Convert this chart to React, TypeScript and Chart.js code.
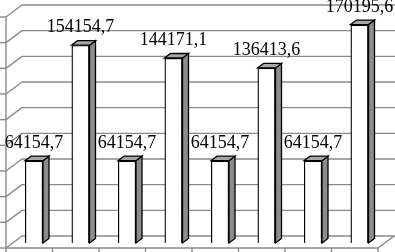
import React, { useEffect, useRef } from "react";
import { Chart, registerables } from "chart.js";

Chart.register(...registerables);

const categories = ["1", "2", "3", "4", "5", "6", "7", "8"];
const values = [64154.7, 154154.7, 64154.7, 144171.1, 64154.7, 136413.6, 64154.7, 170195.6];
const yTicks = [0, 20000, 40000, 60000, 80000, 100000, 120000, 140000, 160000, 180000];

const FX = -4.75, FY = 5; // front plane offset from bar plane
const BX = 11.25, BY = -7; // back plane offset from bar plane
const DX = 6, DY = 4.5; // bar depth

const fmt = (v: number) => String(v).replace(".", ",");

const wallPlugin = {
  id: "wall3d",
  beforeDatasetsDraw(chart: any) {
    const { ctx, chartArea: a, scales } = chart;
    const y = scales.y;
    ctx.save();
    ctx.strokeStyle = "#8a8a8a";
    ctx.lineWidth = 1.4;
    const line = (x1: number, y1: number, x2: number, y2: number) => {
      ctx.beginPath();
      ctx.moveTo(x1, y1);
      ctx.lineTo(x2, y2);
      ctx.stroke();
    };
    for (const v of yTicks) {
      const yp = y.getPixelForValue(v);
      line(a.left + BX, yp + BY, a.right + BX + 2, yp + BY);
      line(a.left + FX, yp + FY, a.left + BX, yp + BY);
      line(a.left + FX - 6, yp + FY, a.left + FX, yp + FY);
    }
    const y0 = y.getPixelForValue(0);
    const yMax = y.getPixelForValue(yTicks[yTicks.length - 1]);
    line(a.left + FX, yMax + FY, a.left + FX, y0 + FY);
    line(a.left + FX, y0 + FY, a.right + FX, y0 + FY);
    line(a.right + FX, y0 + FY, a.right + BX, y0 + BY);
    const n = categories.length;
    for (let i = 0; i <= n; i++) {
      const xp = a.left + FX + (i * (a.right - a.left)) / n;
      line(xp, y0 + FY, xp, y0 + FY + 6);
    }
    ctx.restore();
  },
  afterDatasetsDraw(chart: any) {
    const { ctx } = chart;
    const meta = chart.getDatasetMeta(0);
    ctx.save();
    ctx.lineWidth = 1.3;
    ctx.strokeStyle = "#000";
    meta.data.forEach((bar: any, i: number) => {
      const { x, y, base, width } = bar.getProps(["x", "y", "base", "width"], true);
      const l = x - width / 2;
      const r = x + width / 2;
      // side face
      ctx.beginPath();
      ctx.moveTo(r, y);
      ctx.lineTo(r + DX, y - DY);
      ctx.lineTo(r + DX, base - DY);
      ctx.lineTo(r, base);
      ctx.closePath();
      ctx.fillStyle = "#8c8c8c";
      ctx.fill();
      ctx.stroke();
      // top face
      ctx.beginPath();
      ctx.moveTo(l, y);
      ctx.lineTo(l + DX, y - DY);
      ctx.lineTo(r + DX, y - DY);
      ctx.lineTo(r, y);
      ctx.closePath();
      ctx.fillStyle = "#a6a6a6";
      ctx.fill();
      ctx.stroke();
      // label
      ctx.fillStyle = "#000";
      ctx.font = "18px 'Liberation Serif', 'Times New Roman', serif";
      ctx.textAlign = "center";
      ctx.textBaseline = "alphabetic";
      ctx.fillText(fmt(values[i]), x, y - 13);
    });
    ctx.restore();
  },
};

export default function App() {
  const ref = useRef<HTMLCanvasElement>(null);
  useEffect(() => {
    document.body.style.margin = "0";
    const canvas = ref.current!;
    const ctx = canvas.getContext("2d")!;
    const grad = ctx.createLinearGradient(0, 0, 395, 0);
    const chart = new Chart(canvas, {
      type: "bar",
      data: {
        labels: categories,
        datasets: [
          {
            data: values,
            backgroundColor: (c: any) => {
              const el = c.element;
              if (!el || !el.width) return "#ffffff";
              const l = el.x - el.width / 2;
              const g = ctx.createLinearGradient(l, 0, l + el.width, 0);
              g.addColorStop(0, "#e4e4e4");
              g.addColorStop(0.35, "#ffffff");
              g.addColorStop(1, "#ffffff");
              return g;
            },
            borderColor: "#000000",
            borderWidth: 1.4,
            barPercentage: 0.387,
            categoryPercentage: 1,
          },
        ],
      },
      options: {
        responsive: false,
        animation: false,
        layout: { padding: { left: 10.75, right: 12.25, top: 12, bottom: 9 } },
        plugins: { legend: { display: false }, tooltip: { enabled: false } },
        scales: {
          x: { display: false, offset: true },
          y: { display: false, min: 0, max: 180000 },
        },
      },
      plugins: [wallPlugin],
    });
    void grad;
    return () => chart.destroy();
  }, []);
  return (
    <div style={{ width: 395, height: 252, background: "#fff" }}>
      <canvas ref={ref} width={395} height={252} style={{ display: "block" }} />
    </div>
  );
}
